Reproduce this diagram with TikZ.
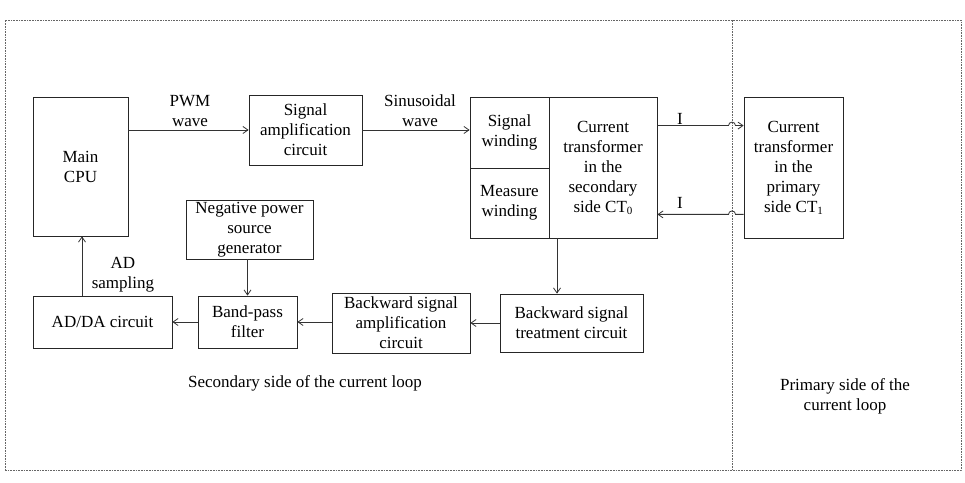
\documentclass[tikz,border=0pt]{standalone}
\usepackage{fontspec}
\setmainfont{Liberation Serif}
\usetikzlibrary{arrows.meta,calc}
\begin{document}
\begin{tikzpicture}[x=1pt,y=1pt,
  >={Straight Barb[length=5pt,width=7pt]},
  box/.style={draw=black!85,line width=0.8pt,rectangle,align=center,inner sep=0pt,
    font=\fontsize{17}{20}\selectfont},
  lbl/.style={align=center,inner sep=0pt,font=\fontsize{17}{20}\selectfont},
  conn/.style={draw=black!80,line width=0.8pt,->},
  frame/.style={draw=black!60,line width=0.8pt,dash pattern=on 1pt off 0.6pt}]
\useasboundingbox (0,0) rectangle (965,482);
\draw[frame] (5,12) rectangle (961,462);
\draw[frame] (732,12) -- (732,462);
% nodes
\node[box,minimum width=95,minimum height=139] (cpu) at (80.5,315.5) {Main\\CPU};
\node[box,minimum width=113,minimum height=70] (amp) at (305.5,352) {Signal\\amplification\\circuit};
\node[box,minimum width=79,minimum height=71] (sw) at (509.5,349.5) {Signal\\winding};
\node[box,minimum width=79,minimum height=70] (mw) at (509.5,279) {Measure\\winding};
\node[box,minimum width=108,minimum height=141] (ct0) at (603,314.5) {Current\\transformer\\in the\\secondary\\side CT{\fontsize{11}{11}\selectfont\raisebox{-2pt}{0}}};
\node[box,minimum width=99,minimum height=141] (ct1) at (793.5,314.5) {Current\\transformer\\in the\\primary\\side CT{\fontsize{11}{11}\selectfont\raisebox{-2pt}{1}}};
\node[box,minimum width=143,minimum height=58] (bst) at (571.5,159) {Backward signal\\treatment circuit};
\node[box,minimum width=138,minimum height=60] (bsa) at (401,159) {Backward signal\\amplification\\circuit};
\node[box,minimum width=99,minimum height=52] (bpf) at (247.5,160) {Band-pass\\filter};
\node[box,minimum width=127,minimum height=59] (neg) at (249.5,252.5) {Negative power\\source\\generator};
\node[box,minimum width=139,minimum height=52] (adda) at (102.5,160) {AD/DA circuit};
% labels
\node[lbl] (pwm) at (190,371) {PWM\\wave};
\node[lbl] (sin) at (420,371) {Sinusoidal\\wave};
\node[lbl] (i1) at (680,363) {I};
\node[lbl] (i2) at (680,279) {I};
\node[lbl] (ads) at (123,207) {AD\\sampling};
\node[lbl] (sec) at (305,99) {Secondary side of the current loop};
\node[lbl] (pri) at (845,86) {Primary side of the\\current loop};
% connectors
\coordinate (ta) at ($(ct0.north east)+(0,-29)$);
\coordinate (tb) at ($(ct0.south east)+(0,24)$);
\coordinate (cd) at (557,243.5);
\draw[conn] (cpu.east |- amp.west) -- (amp.west);
\draw[conn] (amp.east) -- (amp.east -| sw.west);
\draw[conn] (ta) -- ($(ta -| 732,0)+(-3.5,0)$) arc[start angle=180,end angle=0,radius=3.5] -- (ta -| ct1.west);
\draw[conn] (tb -| ct1.west) -- ($(tb -| 732,0)+(3.5,0)$) arc[start angle=0,end angle=180,radius=3.5] -- (tb);
\draw[conn] (cd) -- (cd |- bst.north);
\draw[conn] (bst.west) -- (bst.west -| bsa.east);
\draw[conn] (bsa.west |- bpf.east) -- (bpf.east);
\draw[conn] (bpf.west) -- (adda.east);
\draw[conn] (neg.south -| bpf.north) -- (bpf.north);
\draw[conn] (adda.north -| 82,0) -- (cpu.south -| 82,0);
\end{tikzpicture}
\end{document}
